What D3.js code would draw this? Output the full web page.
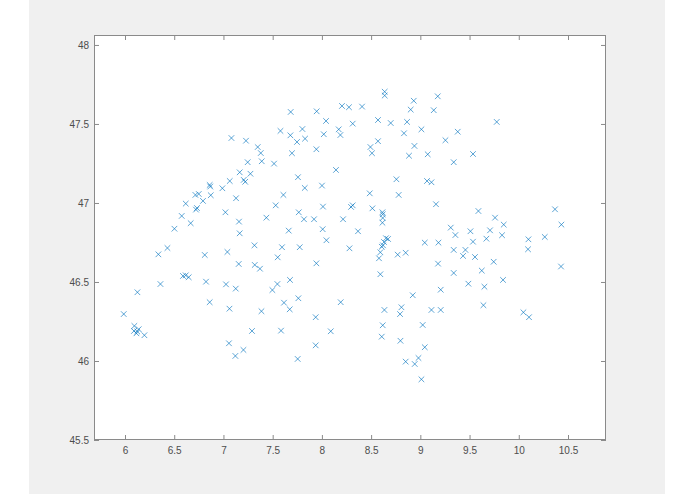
<!DOCTYPE html>
<html>
<head>
<meta charset="utf-8">
<script src="https://cdn.jsdelivr.net/npm/d3@7"></script>
<style>
  body { margin: 0; background: #ffffff; }
  .tick text { font-family: "Liberation Sans", Arial, sans-serif; font-size: 10px; fill: #4d4d4d; }
</style>
</head>
<body>
<div id="chart"></div>
<script>

const WIDTH = 695;
const HEIGHT = 494;

// Axes box inside the figure.
const BOX = {'left': 94, 'right': 606, 'top': 35, 'bottom': 440};

// Longitude / latitude of every station.
var lon = [
  7.081, 7.229, 7.348, 7.379, 7.246, 7.389, 7.514, 7.165, 7.274, 7.579,
  7.683, 7.680, 7.747, 7.696, 8.638, 8.638, 9.177, 8.933, 8.204, 8.275,
  8.408, 7.947, 8.902, 9.136, 8.042, 8.313, 8.570, 8.699, 8.865, 7.802,
  7.829, 8.019, 8.171, 8.188, 8.834, 9.011, 9.255, 8.570, 8.493, 8.509,
  8.940, 8.885, 9.075, 7.944, 8.143, 7.757, 7.826, 8.001, 7.609, 7.531,
  8.486, 8.757, 8.780, 9.068, 9.113, 9.159, 7.765, 7.818, 7.920, 8.011,
  8.296, 8.313, 8.513, 8.215, 8.615, 8.618, 8.618, 8.615, 7.663, 8.008,
  8.367, 7.595, 7.775, 8.046, 8.280, 8.651, 8.672, 8.631, 8.621, 8.608,
  8.594, 8.580, 9.045, 9.184, 8.770, 8.851, 7.551, 7.944, 9.180, 9.776,
  9.380, 9.535, 9.339, 9.590, 9.759, 9.847, 9.309, 9.356, 9.509, 9.708,
  9.830, 9.535, 9.671, 10.098, 10.264, 10.368, 10.433, 10.094, 9.339, 9.458,
  9.434, 9.555, 9.745, 9.339, 9.624, 9.840, 10.429, 9.488, 9.651, 9.207,
  9.207, 9.641, 10.047, 10.104, 8.594, 7.676, 7.761, 7.615, 7.673, 8.191,
  7.937, 7.585, 8.090, 7.937, 7.754, 8.923, 8.635, 8.808, 8.794, 9.113,
  8.618, 9.024, 8.608, 8.798, 9.045, 8.981, 8.851, 8.943, 9.011, 7.064,
  7.206, 7.221, 6.860, 6.866, 6.749, 6.715, 6.871, 6.989, 7.128, 6.792,
  6.617, 6.721, 6.731, 7.020, 7.436, 6.576, 6.667, 7.158, 6.502, 7.165,
  7.315, 6.431, 6.339, 6.810, 7.040, 7.155, 7.318, 7.371, 6.589, 6.617,
  6.647, 6.360, 6.823, 7.026, 7.125, 7.548, 7.497, 6.126, 6.860, 7.061,
  7.386, 5.987, 6.095, 6.139, 6.116, 6.091, 6.124, 6.197, 7.290, 7.056,
  7.203, 7.121
];

var lat = [
  47.411, 47.394, 47.354, 47.316, 47.258, 47.264, 47.249, 47.194, 47.185, 47.456,
  47.576, 47.428, 47.386, 47.315, 47.704, 47.680, 47.675, 47.647, 47.614, 47.606,
  47.610, 47.580, 47.591, 47.587, 47.519, 47.502, 47.525, 47.506, 47.513, 47.468,
  47.407, 47.435, 47.466, 47.430, 47.441, 47.466, 47.397, 47.391, 47.354, 47.315,
  47.361, 47.299, 47.308, 47.340, 47.209, 47.163, 47.095, 47.110, 47.051, 46.985,
  47.061, 47.150, 47.051, 47.139, 47.131, 46.992, 46.941, 46.897, 46.897, 46.977,
  46.975, 46.985, 46.966, 46.897, 46.941, 46.928, 46.905, 46.875, 46.825, 46.834,
  46.821, 46.720, 46.720, 46.764, 46.713, 46.777, 46.772, 46.753, 46.732, 46.723,
  46.688, 46.650, 46.749, 46.749, 46.673, 46.685, 46.656, 46.618, 46.616, 47.513,
  47.451, 47.310, 47.258, 46.949, 46.907, 46.863, 46.844, 46.797, 46.821, 46.827,
  46.796, 46.755, 46.774, 46.770, 46.785, 46.960, 46.863, 46.707, 46.703, 46.703,
  46.665, 46.658, 46.628, 46.557, 46.572, 46.513, 46.598, 46.489, 46.470, 46.451,
  46.323, 46.353, 46.308, 46.277, 46.549, 46.513, 46.397, 46.369, 46.327, 46.372,
  46.277, 46.192, 46.188, 46.099, 46.013, 46.416, 46.323, 46.340, 46.297, 46.323,
  46.226, 46.228, 46.154, 46.128, 46.087, 46.019, 45.996, 45.981, 45.884, 47.139,
  47.146, 47.134, 47.114, 47.104, 47.057, 47.051, 47.049, 47.093, 47.030, 47.013,
  46.996, 46.958, 46.968, 46.941, 46.907, 46.918, 46.872, 46.882, 46.837, 46.808,
  46.732, 46.715, 46.675, 46.671, 46.690, 46.614, 46.608, 46.584, 46.538, 46.542,
  46.530, 46.487, 46.502, 46.485, 46.458, 46.487, 46.449, 46.435, 46.372, 46.331,
  46.315, 46.297, 46.222, 46.201, 46.175, 46.190, 46.187, 46.163, 46.190, 46.112,
  46.070, 46.032
];

var xTicks = [6, 6.5, 7, 7.5, 8, 8.5, 9, 9.5, 10, 10.5];
var yTicks = [45.5, 46, 46.5, 47, 47.5, 48];

var xLimits = [5.685, 10.886];
var yLimits = [45.5, 48.063];


window.onload = function() {

    var svg = d3.select("#chart").append("svg")
                .attr("width", WIDTH)
                .attr("height", HEIGHT);

    // figure background
    svg.append("rect")
       .attr("x", 29).attr("y", 0)
       .attr("width", 636).attr("height", HEIGHT)
       .attr("fill", "#f0f0f0");

    // axes background
    svg.append("rect")
       .attr("x", BOX.left).attr("y", BOX.top)
       .attr("width", BOX.right - BOX.left).attr("height", BOX.bottom - BOX.top)
       .attr("fill", "#ffffff");

    var x = d3.scaleLinear().domain(xLimits).range([BOX.left, BOX.right]);
    var y = d3.scaleLinear().domain(yLimits).range([BOX.bottom, BOX.top]);

    var fmt = function (d) { return String(d); };

    // ticks point inwards on all four sides, like matlab with box on
    svg.append("g")
        .attr("transform", "translate(0," + BOX.bottom + ")")
        .call(d3.axisBottom(x).tickValues(xTicks).tickFormat(fmt).tickSizeInner(-5).tickSizeOuter(0).tickPadding(7));

    svg.append("g")
        .attr("transform", "translate(0," + BOX.top + ")")
        .call(d3.axisTop(x).tickValues(xTicks).tickFormat("").tickSizeInner(-5).tickSizeOuter(0));

    svg.append("g")
        .attr("transform", "translate(" + BOX.left + ",0)")
        .call(d3.axisLeft(y).tickValues(yTicks).tickFormat(fmt).tickSizeInner(-5).tickSizeOuter(0).tickPadding(5));

    svg.append("g")
        .attr("transform", "translate(" + BOX.right + ",0)")
        .call(d3.axisRight(y).tickValues(yTicks).tickFormat("").tickSizeInner(-5).tickSizeOuter(0));

    svg.selectAll(".domain").remove();
    svg.selectAll(".tick line").attr("stroke", "#8a8a8a");

    // box outline
    svg.append("rect")
       .attr("x", BOX.left + 0.5).attr("y", BOX.top + 0.5)
       .attr("width", BOX.right - BOX.left - 1).attr("height", BOX.bottom - BOX.top - 1)
       .attr("fill", "none")
       .attr("stroke", "#8a8a8a")
       .attr("stroke-width", 1);

    // 'x' markers
    var pts = lon.map(function (d, i) { return [d, lat[i]]; });
    var r = 2.8;

    svg.append("g")
       .attr("stroke", "#0072bd")
       .attr("stroke-width", 0.8)
       .attr("stroke-opacity", 0.8)
       .selectAll("path")
       .data(pts)
       .enter()
       .append("path")
       .attr("d", function (d) {
           var cx = x(d[0]), cy = y(d[1]);
           return "M" + (cx - r) + "," + (cy - r) + "L" + (cx + r) + "," + (cy + r) +
                  "M" + (cx - r) + "," + (cy + r) + "L" + (cx + r) + "," + (cy - r);
       });
};

</script>
</body>
</html>
